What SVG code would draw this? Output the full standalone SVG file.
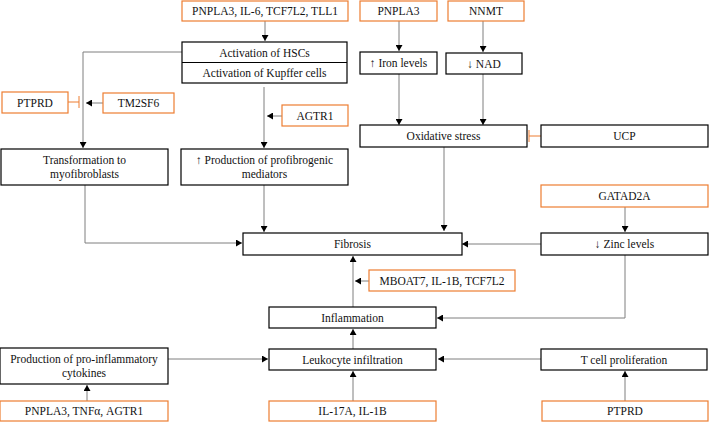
<svg xmlns="http://www.w3.org/2000/svg" width="709" height="423" viewBox="0 0 709 423">
<defs>
<marker id="ah" markerUnits="userSpaceOnUse" markerWidth="7" markerHeight="7" refX="6" refY="3.5" orient="auto">
<path d="M0,0 L6,3.5 L0,7 Z" fill="#000"/>
</marker>
<style>
.n{fill:#fff;stroke:#000;stroke-width:1.2}
.g{fill:#fff;stroke:#ED7D31;stroke-width:1.2}
text{font-family:"Liberation Serif","Times New Roman",serif;font-size:11.5px;fill:#111;text-anchor:middle}
.c{fill:none;stroke:#7f7f7f;stroke-width:1}
.a{marker-end:url(#ah)}
.i{fill:none;stroke:#ED7D31;stroke-width:1}
</style>
</defs>
<g id="connectors">
<path class="c a" d="M265,21 V41"/>
<path class="c a" d="M182,52 H83 V148"/>
<path class="i" d="M68,102 H79 M79,96 V108"/>
<path class="c a" d="M103,103 H86"/>
<path class="c a" d="M264,87 V148"/>
<path class="c a" d="M282,116 H267"/>
<path class="c a" d="M399,21 V51"/>
<path class="c a" d="M483,21 V52"/>
<path class="c a" d="M399,74 V125"/>
<path class="c a" d="M483,74 V125"/>
<path class="i" d="M541,136 H529 M529,130 V142"/>
<path class="c a" d="M444,147 V231"/>
<path class="c a" d="M625,207 V232"/>
<path class="c a" d="M541,244 H462"/>
<path class="c a" d="M264,185 V232"/>
<path class="c a" d="M85,185 V243 H242"/>
<path class="c a" d="M625,255 V318 H437"/>
<path class="c a" d="M353,307 V256"/>
<path class="c a" d="M369,281 H355"/>
<path class="c a" d="M353,349 V329"/>
<path class="c a" d="M353,401 V371"/>
<path class="c a" d="M168,359 H268"/>
<path class="c a" d="M541,359 H438"/>
<path class="c a" d="M87,401 V385"/>
<path class="c a" d="M625,401 V371"/>
</g>
<g id="n-genes-hsc"><rect class="g" x="182" y="1" width="166" height="20"/><text x="265" y="15">PNPLA3, IL-6, TCF7L2, TLL1</text></g>
<g id="n-activation"><rect class="n" x="182" y="42" width="165" height="41"/><line x1="182" y1="62.5" x2="347" y2="62.5" stroke="#000" stroke-width="1.2"/><text x="264.5" y="56.5">Activation of HSCs</text><text x="264.5" y="77">Activation of Kupffer cells</text></g>
<g id="n-ptprd1"><rect class="g" x="2" y="92" width="66" height="21"/><text x="35" y="106.5">PTPRD</text></g>
<g id="n-tm2sf6"><rect class="g" x="103" y="93" width="71" height="20"/><text x="138.5" y="107">TM2SF6</text></g>
<g id="n-agtr1"><rect class="g" x="282" y="105" width="66" height="21"/><text x="315" y="119.5">AGTR1</text></g>
<g id="n-pnpla3"><rect class="g" x="360" y="1" width="77" height="20"/><text x="398.5" y="15">PNPLA3</text></g>
<g id="n-nnmt"><rect class="g" x="448" y="1" width="76" height="20"/><text x="486" y="15">NNMT</text></g>
<g id="n-iron"><rect class="n" x="360" y="52" width="77" height="22"/><text x="398.5" y="67">↑ Iron levels</text></g>
<g id="n-nad"><rect class="n" x="446" y="53" width="76" height="21"/><text x="484" y="68">↓ NAD</text></g>
<g id="n-oxidative"><rect class="n" x="360" y="125" width="167" height="22"/><text x="443.5" y="140">Oxidative stress</text></g>
<g id="n-ucp"><rect class="n" x="541" y="125" width="167" height="22"/><text x="624.5" y="140">UCP</text></g>
<g id="n-transform"><rect class="n" x="1" y="149" width="167" height="36"/><text x="84.5" y="164">Transformation to</text><text x="84.5" y="177.5">myofibroblasts</text></g>
<g id="n-profib"><rect class="n" x="181" y="149" width="167" height="36"/><text x="264.5" y="164">↑ Production of profibrogenic</text><text x="264.5" y="177.5">mediators</text></g>
<g id="n-gatad2a"><rect class="g" x="541" y="185" width="167" height="22"/><text x="624.5" y="200">GATAD2A</text></g>
<g id="n-fibrosis"><rect class="n" x="243" y="233" width="219" height="22"/><text x="352.5" y="248">Fibrosis</text></g>
<g id="n-zinc"><rect class="n" x="541" y="233" width="167" height="22"/><text x="624.5" y="248">↓ Zinc levels</text></g>
<g id="n-mboat7"><rect class="g" x="369" y="270" width="146" height="21"/><text x="442" y="284.5">MBOAT7, IL-1B, TCF7L2</text></g>
<g id="n-inflammation"><rect class="n" x="269" y="307" width="167" height="21"/><text x="352.5" y="321.5">Inflammation</text></g>
<g id="n-proinf"><rect class="n" x="0" y="348" width="168" height="36"/><text x="84" y="363">Production of pro-inflammatory</text><text x="84" y="376.5">cytokines</text></g>
<g id="n-leukocyte"><rect class="n" x="269" y="349" width="167" height="21"/><text x="352.5" y="363.5">Leukocyte infiltration</text></g>
<g id="n-tcell"><rect class="n" x="541" y="349" width="166" height="21"/><text x="624" y="363.5">T cell proliferation</text></g>
<g id="n-genes-cyt"><rect class="g" x="0" y="401" width="168" height="20"/><text x="84" y="415">PNPLA3, TNFα, AGTR1</text></g>
<g id="n-il17a"><rect class="g" x="269" y="401" width="167" height="20"/><text x="352.5" y="415">IL-17A, IL-1B</text></g>
<g id="n-ptprd2"><rect class="g" x="542" y="401" width="166" height="20"/><text x="625" y="415">PTPRD</text></g>
</svg>
